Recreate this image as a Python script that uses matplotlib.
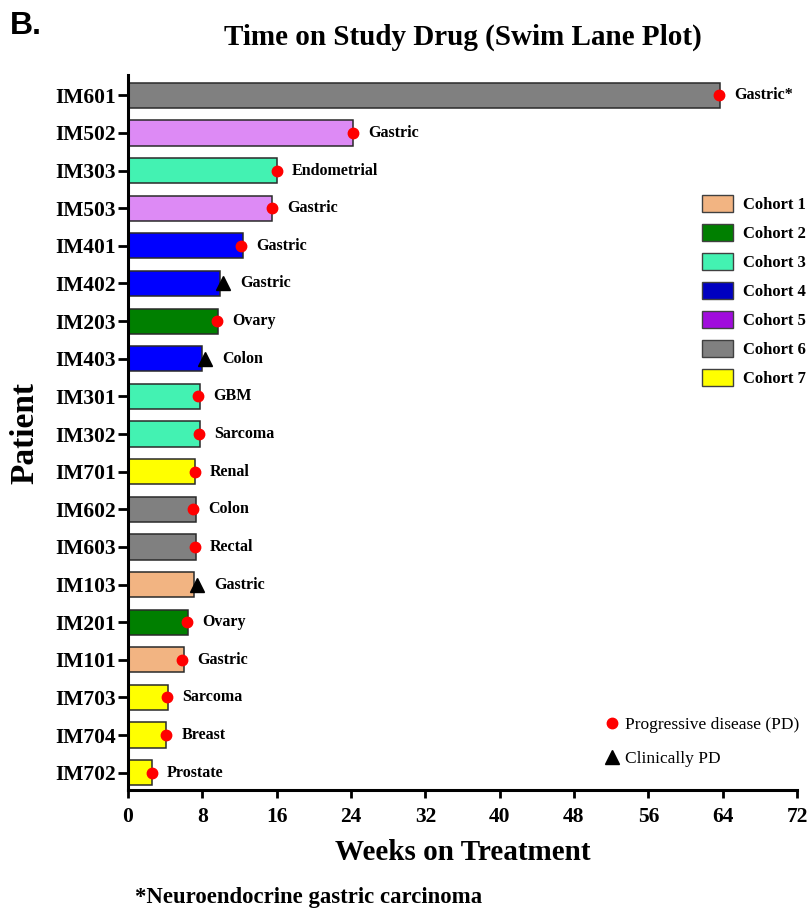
import numpy as np
import matplotlib
matplotlib.use("Agg")
import matplotlib.pyplot as plt
from matplotlib.patches import Patch
from matplotlib.lines import Line2D

# ---------------- data ----------------
patients = ["IM601", "IM502", "IM303", "IM503", "IM401", "IM402", "IM203", "IM403",
            "IM301", "IM302", "IM701", "IM602", "IM603", "IM103", "IM201", "IM101",
            "IM703", "IM704", "IM702"]
weeks = [63.7, 24.2, 16.0, 15.5, 12.4, 9.9, 9.7, 8.0, 7.7, 7.7, 7.2, 7.3, 7.3,
         7.1, 6.5, 6.0, 4.3, 4.1, 2.6]
event_weeks = [63.6, 24.2, 16.0, 15.5, 12.2, 10.2, 9.6, 8.3, 7.5, 7.6, 7.2, 7.0, 7.2,
               7.4, 6.3, 5.8, 4.2, 4.1, 2.55]
event_type = ["PD", "PD", "PD", "PD", "PD", "CPD", "PD", "CPD", "PD", "PD", "PD", "PD",
              "PD", "CPD", "PD", "PD", "PD", "PD", "PD"]
cohort = [6, 5, 3, 5, 4, 4, 2, 4, 3, 3, 7, 6, 6, 1, 2, 1, 7, 7, 7]
tumor = ["Gastric*", "Gastric", "Endometrial", "Gastric", "Gastric", "Gastric", "Ovary",
         "Colon", "GBM", "Sarcoma", "Renal", "Colon", "Rectal", "Gastric", "Ovary",
         "Gastric", "Sarcoma", "Breast", "Prostate"]

cohort_names = ["Cohort 1", "Cohort 2", "Cohort 3", "Cohort 4", "Cohort 5", "Cohort 6", "Cohort 7"]
bar_colors = ["#F2B482", "#007F00", "#43F2B2", "#0000FF", "#DD8AF5", "#808080", "#FFFF00"]
legend_colors = ["#F2B482", "#007F00", "#43F2B2", "#0000C0", "#A00CDC", "#808080", "#FFFF00"]
xticks = [0, 8, 16, 24, 32, 40, 48, 56, 64, 72]

SERIF = "Liberation Serif"

# ---------------- figure ----------------
fig = plt.figure(figsize=(8.12, 9.08), dpi=100)
ax = fig.add_axes([128 / 812, 118 / 908, 669 / 812, 715 / 908])

n = len(patients)
y = np.arange(n)[::-1]

ax.barh(y, weeks, height=0.67, color=[bar_colors[c - 1] for c in cohort],
        edgecolor="#2a2a2a", linewidth=1.1, zorder=2)

for yi, ew, et, tm in zip(y, event_weeks, event_type, tumor):
    if et == "PD":
        ax.plot(ew, yi, marker="o", color="#FF0000", markersize=7.5,
                linestyle="none", zorder=3, clip_on=False)
        off = 11
    else:
        ax.plot(ew, yi, marker="^", color="black", markersize=10,
                linestyle="none", zorder=3, clip_on=False)
        off = 12.5
    ax.annotate(tm, xy=(ew, yi), xytext=(off, 0), textcoords="offset points",
                ha="left", va="center", fontsize=11.5, fontweight="bold",
                family=SERIF)

ax.set_xlim(0, 72)
ax.set_ylim(-0.46, n - 1 + 0.54)
ax.set_xticks(xticks)
ax.set_xticklabels([str(t) for t in xticks], fontsize=15.5, fontweight="bold", family=SERIF)
ax.set_yticks(y)
ax.set_yticklabels(patients, fontsize=15.5, fontweight="bold", family=SERIF)

for s in ["top", "right"]:
    ax.spines[s].set_visible(False)
for s in ["left", "bottom"]:
    ax.spines[s].set_linewidth(2.2)
ax.tick_params(axis="y", length=7, width=2, pad=1.5)
ax.tick_params(axis="x", length=6, width=2, pad=6)

ax.set_xlabel("Weeks on Treatment", fontsize=21, fontweight="bold", family=SERIF)
ax.xaxis.set_label_coords(0.5, -0.068)
ax.set_ylabel("Patient", fontsize=24, fontweight="bold", family=SERIF)
ax.yaxis.set_label_coords(-0.1315, 0.499)

ax.set_title("Time on Study Drug (Swim Lane Plot)", fontsize=21, fontweight="bold",
             family=SERIF, pad=22)

# cohort legend
handles = [Patch(facecolor=c, edgecolor="#404040", linewidth=1.0) for c in legend_colors]
leg1 = ax.legend(handles, cohort_names, loc="upper left",
                 bbox_to_anchor=(702 / 812, 1 - 195.5 / 908), bbox_transform=fig.transFigure,
                 frameon=False, borderpad=0, borderaxespad=0,
                 handlelength=1.86, handleheight=1.15, handletextpad=0.6,
                 labelspacing=0.66,
                 prop={"family": SERIF, "weight": "bold", "size": 12})
ax.add_artist(leg1)

# event legend
ev_handles = [Line2D([], [], marker="o", color="#FF0000", linestyle="none", markersize=7.5),
              Line2D([], [], marker="^", color="black", linestyle="none", markersize=10)]
ax.legend(ev_handles, ["Progressive disease (PD)", "Clinically PD"], loc="upper left",
          bbox_to_anchor=(605 / 812, 1 - 717 / 908), bbox_transform=fig.transFigure,
          frameon=False, borderpad=0, borderaxespad=0, numpoints=1,
          handlelength=0.8, handletextpad=0.35, labelspacing=1.02,
          prop={"family": SERIF, "size": 12.5})

fig.text(10 / 812, 1 - 11 / 908, "B.", fontsize=23, fontweight="bold",
         family="Liberation Sans", ha="left", va="top")
fig.text(135 / 812, 5 / 908, "*Neuroendocrine gastric carcinoma", fontsize=16.4,
         fontweight="bold", family=SERIF, ha="left", va="baseline")

fig.savefig("out.png", dpi=100)
